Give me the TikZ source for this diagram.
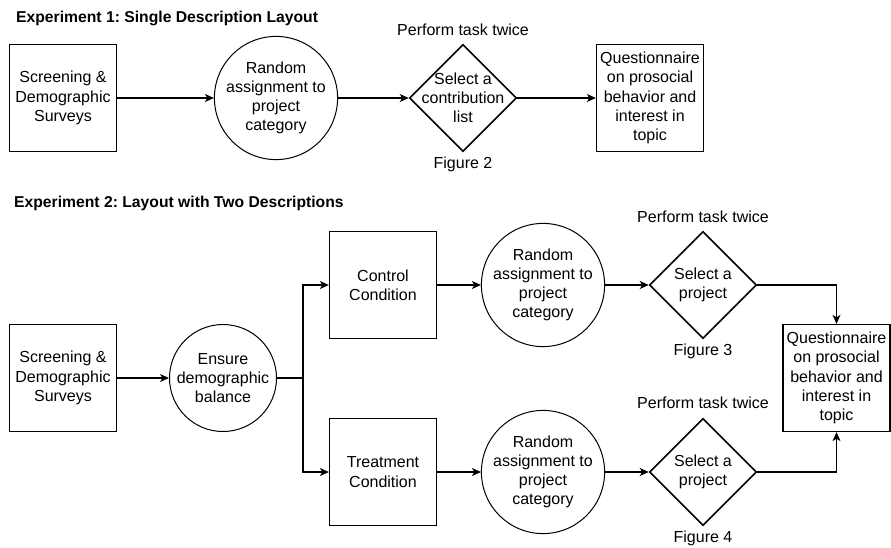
\documentclass[tikz,border=0pt]{standalone}
\usepackage{fontspec}
\setmainfont{Liberation Sans}
\usetikzlibrary{shapes.geometric,arrows.meta}
\frenchspacing
\begin{document}
\begin{tikzpicture}[x=1pt,y=-1pt,
  every node/.style={font=\fontsize{16}{19.2}\selectfont, align=center, inner sep=0pt},
  boxnode/.style={draw, line width=1.3pt, minimum width=107pt, minimum height=107pt},
  circnode/.style={draw, circle, line width=1pt, minimum size=107pt},
  dianode/.style={draw, diamond, line width=1.6pt, minimum width=107pt, minimum height=107pt},
  titlenode/.style={font=\fontsize{15.7}{18}\selectfont\bfseries, anchor=west},
  arr/.style={line width=1.1pt, -{Stealth[length=9pt,width=8pt,inset=2.5pt]}},
  ln/.style={line width=1.1pt}]
\useasboundingbox (0,0) rectangle (891,547);

% Experiment 1
\node[titlenode] (t1) at (16,18) {Experiment 1: Single Description Layout};
\node[boxnode] (s1) at (63,98) {Screening \&\\Demographic\\Surveys};
\node[circnode] (r1) at (276,98) {Random\\assignment to\\project\\category};
\node[dianode, label={[align=center]center:Select a\\contribution\\list}] (d1) at (463,98) {};
\node (p1) at (463,30) {Perform task twice};
\node (f2) at (463,164) {Figure 2};
\node[boxnode] (q1) at (650,98) {Questionnaire\\on prosocial\\behavior and\\interest in\\topic};
\draw[arr] (s1.east) -- (r1.west);
\draw[arr] (r1.east) -- (d1.west);
\draw[arr] (d1.east) -- (q1.west);

% Experiment 2
\node[titlenode] (t2) at (14,203) {Experiment 2: Layout with Two Descriptions};
\node[boxnode] (s2) at (63,378) {Screening \&\\Demographic\\Surveys};
\node[circnode] (e2) at (223,378) {Ensure\\demographic\\balance};
\coordinate (split) at (303,378);
\node[boxnode] (ctrl) at (383,285) {Control\\Condition};
\node[boxnode] (treat) at (383,472) {Treatment\\Condition};
\node[circnode] (r2) at (543,285) {Random\\assignment to\\project\\category};
\node[circnode] (r3) at (543,472) {Random\\assignment to\\project\\category};
\node[dianode, label={[align=center]center:Select a\\project}] (d2) at (703,285) {};
\node[dianode, label={[align=center]center:Select a\\project}] (d3) at (703,472) {};
\node (p2) at (703,217) {Perform task twice};
\node (p3) at (703,403) {Perform task twice};
\node (f3) at (703,351) {Figure 3};
\node (f4) at (703,538) {Figure 4};
\node[boxnode] (q2) at (836.5,378) {Questionnaire\\on prosocial\\behavior and\\interest in\\topic};

\draw[arr] (s2.east) -- (e2.west);
\draw[ln] (e2.east) -- (split);
\draw[arr] (split) |- (ctrl.west);
\draw[arr] (split) |- (treat.west);
\draw[arr] (ctrl.east) -- (r2.west);
\draw[arr] (treat.east) -- (r3.west);
\draw[arr] (r2.east) -- (d2.west);
\draw[arr] (r3.east) -- (d3.west);
\draw[arr] (d2.east) -| (q2.north);
\draw[arr] (d3.east) -| (q2.south);
\end{tikzpicture}
\end{document}
